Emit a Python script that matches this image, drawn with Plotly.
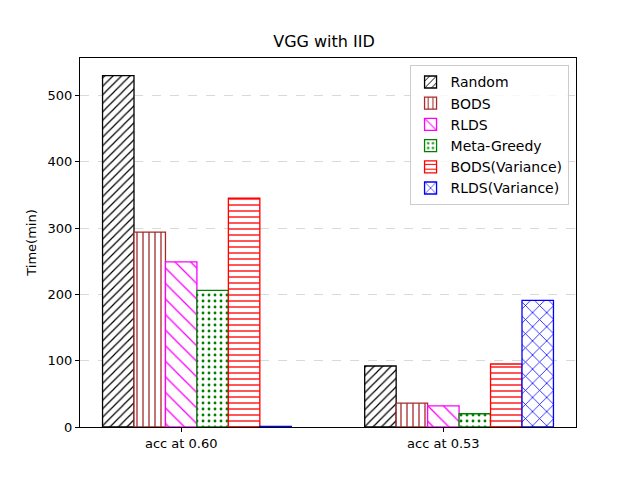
import plotly.graph_objects as go

# group labels and methods
groups = ["acc at 0.60", "acc at 0.53"]
methods = ["Random", "BODS", "RLDS", "Meta-Greedy", "BODS(Variance)", "RLDS(Variance)"]

# time (min), one list per method
random_vals = [530, 92]
bods_vals = [294, 36]
rlds_vals = [249, 32]
meta_greedy_vals = [206, 20]
bods_var_vals = [345, 95]
rlds_var_vals = [1, 191]

series = [random_vals, bods_vals, rlds_vals, meta_greedy_vals, bods_var_vals, rlds_var_vals]
edge_colors = ["black", "#a52a2a", "magenta", "green", "red", "blue"]
hatches = ["/", "|", "\\", ".", "-", "x"]
hatch_sizes = [6, 6, 11, 6, 6, 10]
hatch_solid = [0.2, 0.22, 0.12, 0.18, 0.22, 0.15]

width = 0.12
base_x = list(range(len(groups)))

fig = go.Figure()
for i, (name, vals) in enumerate(zip(methods, series)):
    xs = [b + (i - 2) * width for b in base_x]
    fig.add_trace(go.Bar(
        x=xs,
        y=vals,
        name=name,
        width=width,
        marker=dict(
            color="white",
            line=dict(color=edge_colors[i], width=1.3),
            pattern=dict(shape=hatches[i], fgcolor=edge_colors[i], bgcolor="white",
                         fgopacity=1, size=hatch_sizes[i], solidity=hatch_solid[i]),
        ),
    ))

# page body adds an 8px offset, so the figure is 8px smaller
fig.update_layout(
    width=632,
    height=472,
    barmode="overlay",
    plot_bgcolor="white",
    paper_bgcolor="white",
    font=dict(family="DejaVu Sans", size=13, color="black"),
    title=dict(text="VGG with IID", x=0.5, xanchor="center", y=0.93, yanchor="middle",
               font=dict(size=16)),
    margin=dict(l=72, r=64, t=50, b=53),
    showlegend=True,
    legend=dict(
        x=0.985, y=0.98, xanchor="right", yanchor="top",
        bordercolor="#cccccc", borderwidth=1, bgcolor="rgba(255,255,255,0.8)",
        font=dict(size=14), tracegroupgap=0,
    ),
)

fig.update_xaxes(
    range=[-0.386, 1.506],
    tickvals=base_x,
    ticktext=groups,
    showgrid=False,
    showline=True, linecolor="black", linewidth=1, mirror=True,
    ticks="outside", ticklen=4, tickcolor="black",
    zeroline=False,
)
fig.update_yaxes(
    range=[0, 556.5],
    tickvals=[0, 100, 200, 300, 400, 500],
    title=dict(text="Time(min)", standoff=8, font=dict(size=13)),
    showgrid=True, gridcolor="#d9d9d9", griddash="dash", gridwidth=0.8,
    showline=True, linecolor="black", linewidth=1, mirror=True,
    ticks="outside", ticklen=4, tickcolor="black",
    zeroline=False,
)

fig.write_html("out.html")
